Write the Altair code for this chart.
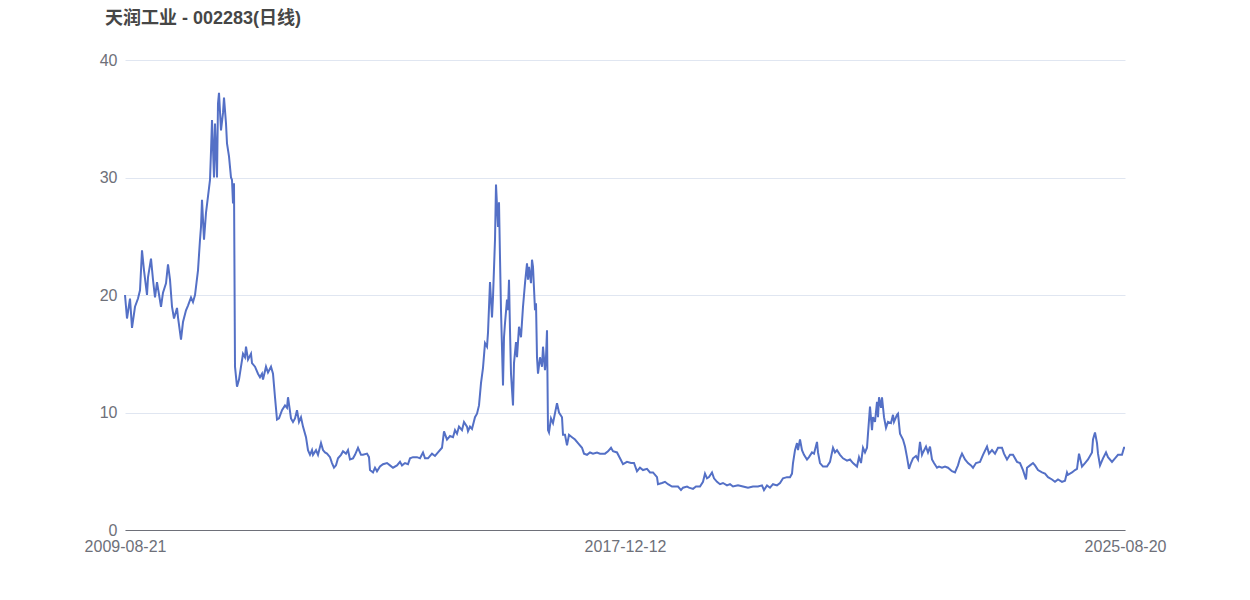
import altair as alt
import pandas as pd

# trading-day index (0 = 2009-08-21, 1000 = 2025-08-20) and close price
day_index = [0, 2, 5, 7, 10, 13, 15, 17, 19, 22, 23, 26, 28, 30, 32, 36, 38, 41, 43, 45, 47, 49, 52, 53, 56, 58, 61, 63, 66, 68, 70, 73, 75, 76, 77, 79, 81, 83, 85, 86, 87, 89, 90, 92, 93, 94, 96, 98, 99, 101, 102, 104, 106, 107, 108, 109, 110, 112, 114, 116, 118, 120, 121, 123, 126, 127, 130, 133, 135, 137, 138, 141, 143, 146, 148, 150,
             152, 154, 157, 160, 162, 163, 166, 168, 170, 172, 174, 176, 178, 181, 183, 185, 187, 188, 191, 193, 196, 198, 200, 202, 205, 207, 209, 211, 213, 216, 218, 221, 223, 225, 228, 230, 233, 236, 238, 242, 244, 245, 248, 250, 252, 255, 258, 262, 265, 268, 272, 275, 277, 280, 283, 285, 288, 292, 295, 298, 300, 303, 307, 310, 313, 317, 319, 322, 325, 328, 330, 332, 334, 337, 339, 342, 343, 345, 347, 350, 352, 354,
             356, 358, 360, 362, 363, 365, 367, 368, 370, 371, 373, 374, 375, 376, 378, 379, 380, 382, 383, 384, 385, 386, 388, 389, 391, 392, 394, 396, 398, 400, 402, 403, 404, 406, 407, 408, 410, 411, 412, 413, 415, 417, 418, 420, 421, 422, 423, 424, 426, 428, 432, 434, 437, 438, 440, 442, 444, 447, 450, 453, 457, 459, 462, 465, 468, 472, 475, 480, 483, 486, 488, 492, 495, 498, 502, 506, 509, 512, 515, 518, 522, 525, 528, 532, 533, 537, 540, 543, 547, 550, 553, 556, 558, 562, 564, 568, 571, 575, 578, 580, 582, 584, 587, 589, 592, 595, 598, 602, 605, 608, 613, 618, 623, 628, 633, 637, 639, 642, 645, 648, 652, 655, 658, 662, 665, 667, 668, 670, 672, 673, 675, 677, 679, 682, 684, 687, 689, 692, 693, 695, 698, 702, 705, 708, 710, 712, 715, 718, 722, 725, 728, 732, 734, 736, 738, 740, 742, 743, 745, 747, 748, 750, 752, 753, 754, 756, 757, 759, 761, 763, 766, 768, 769, 772, 773, 775, 778, 780, 782, 784, 786, 788, 791, 793, 795, 797, 798, 801, 803, 805, 807, 809, 812, 814, 817, 820, 823, 827, 830, 832, 833, 835, 837, 840, 843, 846, 848, 851, 855, 858, 862, 864, 867, 870, 873, 877, 879, 882, 885, 888, 892, 895, 898, 901, 902, 905, 908, 910, 913, 917, 920, 923, 927, 930, 933, 937, 940, 942, 943, 947, 950, 952, 954, 957, 960, 963, 967, 968, 970, 972, 973, 975, 978, 981, 983, 987, 990, 993, 997, 999, 1000]
close = [20.0, 18.0, 19.7, 17.2, 19.0, 19.7, 20.4, 23.8, 22.1, 20.0, 21.5, 23.1, 21.3, 19.8, 21.1, 19.0, 20.2, 21.0, 22.6, 21.3, 19.0, 18.0, 18.9, 18.1, 16.2, 17.7, 18.7, 19.1, 19.8, 19.4, 20.0, 22.1, 24.7, 25.8, 28.1, 24.7, 27.0, 28.4, 29.8, 32.2, 34.9, 30.0, 34.6, 30.0, 36.3, 37.2, 34.0, 35.5, 36.8, 34.6, 32.9, 31.8, 30.0, 29.8, 27.8, 29.5, 13.9, 12.2, 12.8, 13.9, 15.0, 14.7, 15.6, 14.5, 15.0, 14.2, 13.9, 13.3, 13.0, 13.3, 12.8, 13.9, 13.4, 13.9, 13.3, 11.3,
         9.4, 9.5, 10.2, 10.6, 10.4, 11.3, 9.5, 9.2, 9.5, 10.2, 9.2, 9.6, 8.8, 7.9, 6.8, 6.4, 6.8, 6.4, 6.8, 6.4, 7.4, 6.8, 6.6, 6.5, 6.2, 5.7, 5.3, 5.5, 6.1, 6.4, 6.7, 6.5, 6.8, 6.0, 6.1, 6.4, 7.0, 6.4, 6.4, 6.5, 6.2, 5.1, 4.9, 5.3, 5.0, 5.4, 5.6, 5.7, 5.5, 5.3, 5.5, 5.8, 5.5, 5.7, 5.6, 6.1, 6.2, 6.2, 6.1, 6.6, 6.1, 6.1, 6.5, 6.3, 6.6, 7.0, 8.4, 7.7, 8.0, 7.9, 8.5, 8.2, 8.8, 8.5, 9.2, 8.8, 8.4, 8.8, 8.6, 9.6, 9.9, 10.6,
         12.5, 13.8, 15.9, 15.6, 16.8, 21.1, 18.1, 19.8, 24.7, 29.4, 25.8, 27.9, 23.2, 18.7, 12.3, 16.4, 17.6, 19.6, 18.7, 21.3, 17.0, 13.3, 10.6, 14.2, 16.0, 14.7, 17.3, 16.4, 19.0, 21.0, 22.7, 21.3, 22.4, 21.0, 23.0, 22.4, 18.7, 19.3, 14.7, 13.3, 14.7, 13.9, 15.6, 13.6, 14.7, 17.0, 8.5, 8.3, 9.5, 9.1, 10.8, 10.0, 9.6, 8.1, 8.1, 7.2, 8.1, 7.9, 7.7, 7.4, 7.0, 6.5, 6.4, 6.6, 6.5, 6.6, 6.5, 6.5, 6.7, 7.0, 6.7, 6.6, 6.1, 5.6, 5.8, 5.7, 5.7, 5.0, 5.3, 5.1, 5.2, 4.9, 4.9, 4.5, 3.9, 4.0, 4.1, 3.9, 3.7, 3.7, 3.7, 3.4, 3.6, 3.7, 3.6, 3.5, 3.7, 3.7, 4.1, 4.8, 4.4, 4.5, 4.9, 4.4, 4.1, 3.9, 4.0, 3.8, 3.9, 3.7, 3.8, 3.7, 3.6, 3.7, 3.7, 3.8, 3.4, 3.8, 3.6, 3.9, 3.8, 4.0, 4.4, 4.5, 4.5, 4.8, 5.7, 6.8, 7.4, 6.8, 7.7, 6.8, 6.4, 6.0, 6.2, 6.6, 6.5, 7.5, 6.6, 5.7, 5.4, 5.4, 5.8, 7.0, 6.6, 6.8, 6.4, 6.1, 5.9, 6.0, 5.7, 5.4, 6.2, 5.7, 7.0, 6.6, 7.0, 8.2, 10.5, 8.5, 9.6, 9.2, 10.9, 9.6, 11.3, 10.4, 11.3, 9.6, 8.7, 9.2, 9.1, 9.8, 9.2, 9.8, 9.9, 8.2, 7.7, 7.1, 6.2, 5.2, 5.7, 6.1, 6.3, 6.0, 7.5, 6.4, 6.6, 7.1, 6.6, 7.1, 6.0, 5.7, 5.3, 5.4, 5.3, 5.4, 5.3, 5.0, 4.9, 5.3, 5.5, 6.1, 6.5, 6.0, 5.7, 5.5, 5.3, 5.7, 5.8, 6.4, 7.1, 6.5, 6.8, 6.5, 7.0, 7.0, 6.5, 6.0, 6.4, 6.4, 5.8, 5.7, 5.1, 4.3, 5.3, 5.5, 5.7, 5.5, 5.1, 4.9, 4.8, 4.5, 4.3, 4.1, 4.3, 4.1, 4.2, 4.9, 4.7, 4.9, 5.1, 5.2, 6.5, 5.4, 5.7, 6.0, 6.6, 7.7, 8.3, 7.4, 6.5, 5.5, 6.1, 6.6, 6.2, 5.8, 6.1, 6.4, 6.4, 7.0, 7.0]

tick_positions = [0, 500, 1000]
tick_labels = ["2009-08-21", "2017-12-12", "2025-08-20"]
y_ticks = [0, 10, 20, 30, 40]

df = pd.DataFrame({"i": day_index, "close": close})

label_expr = " : ".join(
    f"datum.value == {p} ? '{l}'" for p, l in zip(tick_positions, tick_labels)
) + " : ''"

FONT = "Liberation Sans, Noto Sans CJK SC, sans-serif"

chart = (
    alt.Chart(df)
    .mark_line(color="#5470C6", strokeWidth=2, interpolate="linear")
    .encode(
        x=alt.X(
            "i:Q",
            scale=alt.Scale(domain=[0, 1000], nice=False, zero=False),
            axis=alt.Axis(
                values=tick_positions,
                labelExpr=label_expr,
                title=None,
                grid=False,
                ticks=False,
                tickSize=0,
                domainColor="#6E7079",
                domainWidth=1,
                labelColor="#6E7079",
                labelFontSize=16,
                labelFont=FONT,
                labelPadding=8,
                labelFlush=False,
                labelOverlap=False,
                labelAlign="center",
            ),
        ),
        y=alt.Y(
            "close:Q",
            scale=alt.Scale(domain=[0, 40], nice=False),
            axis=alt.Axis(
                values=y_ticks,
                title=None,
                grid=True,
                gridColor="#E0E6F1",
                gridWidth=1,
                domain=False,
                ticks=False,
                tickSize=0,
                labelColor="#6E7079",
                labelFontSize=16,
                labelFont=FONT,
                labelPadding=8,
            ),
        ),
    )
    .properties(
        width=1000,
        height=470,
        autosize=alt.AutoSizeParams(type="none"),
        padding={"left": 117, "top": 52, "right": 100, "bottom": 50},
        title=alt.TitleParams(
            text="天润工业 - 002283(日线)",
            anchor="start",
            frame="group",
            dx=-20,
            offset=24,
            fontSize=18,
            fontWeight="bold",
            color="#464646",
            font=FONT,
        ),
    )
    .configure(background="white", view=alt.ViewConfig(stroke="transparent", strokeWidth=0))
)

chart.save("out.html", embed_options={"renderer": "svg", "actions": False})
